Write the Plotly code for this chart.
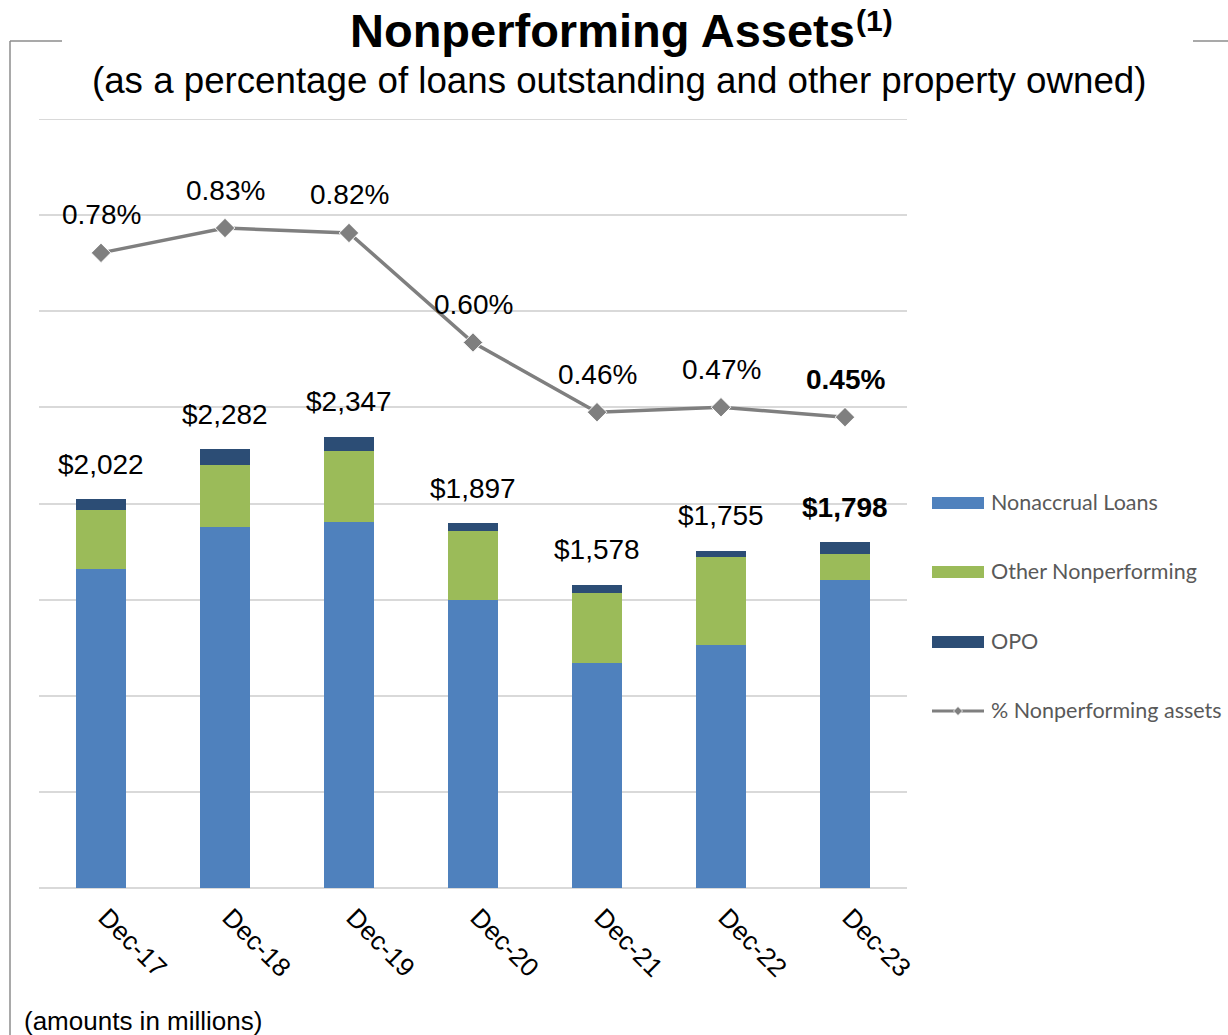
import plotly.graph_objects as go

# ---------------- data ----------------
categories = ["Dec-17", "Dec-18", "Dec-19", "Dec-20", "Dec-21", "Dec-22", "Dec-23"]
nonaccrual_loans = [1661, 1880, 1906, 1500, 1172, 1266, 1602]
other_nonperforming = [304, 318, 365, 355, 364, 458, 135]
opo = [57, 84, 76, 42, 42, 31, 61]
pct_nonperforming = [0.78, 0.83, 0.82, 0.60, 0.46, 0.47, 0.45]

series_names = ["Nonaccrual Loans", "Other Nonperforming", "OPO", "% Nonperforming assets"]

# ---------------- style ----------------
C_BLUE = "#4F81BD"
C_GREEN = "#9BBB59"
C_NAVY = "#2C4D75"
C_LINE = "#7F7F7F"
C_GRID = "#D9D9D9"
FONT = "Arial, Liberation Sans, sans-serif"
LEG_FONT = "Lato, Calibri, sans-serif"

W, H = 1228, 1035
PL, PR, PT, PB = 39, 907, 119, 888   # plot area in page pixels
Y_MAX = 4000
Y_STEP = 500


def px_x(p):
    return (p - PL) / (PR - PL)


def px_y(p):
    return (PB - p) / (PB - PT)


fig = go.Figure()
for name, vals, col in [
    (series_names[0], nonaccrual_loans, C_BLUE),
    (series_names[1], other_nonperforming, C_GREEN),
    (series_names[2], opo, C_NAVY),
]:
    fig.add_trace(go.Bar(x=categories, y=vals, name=name, marker=dict(color=col, line=dict(width=0)),
                         showlegend=False, hoverinfo="y+name"))

fig.add_trace(go.Scatter(
    x=categories, y=pct_nonperforming, name=series_names[3], yaxis="y2",
    mode="lines+markers", line=dict(color=C_LINE, width=3.5),
    marker=dict(symbol="diamond", size=15, color=C_LINE, line=dict(color="white", width=1)),
    showlegend=False,
))

annotations = []
totals = [a + b + c for a, b, c in zip(nonaccrual_loans, other_nonperforming, opo)]
for i, (cat, tot) in enumerate(zip(categories, totals)):
    txt = f"${tot:,}"
    if i == len(categories) - 1:
        txt = f"<b>{txt}</b>"
    annotations.append(dict(x=cat, y=tot, xref="x", yref="y", text=txt, showarrow=False,
                            yanchor="middle", yshift=35, font=dict(family=FONT, size=28, color="black")))
for i, (cat, v) in enumerate(zip(categories, pct_nonperforming)):
    txt = f"{v:.2f}%"
    if i == len(categories) - 1:
        txt = f"<b>{txt}</b>"
    annotations.append(dict(x=cat, y=v, xref="x", yref="y2", text=txt, showarrow=False,
                            yanchor="middle", yshift=38, font=dict(family=FONT, size=28, color="black")))

# titles
annotations.append(dict(x=px_x(602), y=px_y(31), xref="paper", yref="paper", showarrow=False,
                        text="<b>Nonperforming Assets</b>", xanchor="center", yanchor="middle",
                        font=dict(family=FONT, size=47, color="black")))
annotations.append(dict(x=px_x(854), y=px_y(21), xref="paper", yref="paper", showarrow=False,
                        text="<b>(1)</b>", xanchor="left", yanchor="middle",
                        font=dict(family=FONT, size=30, color="black")))
annotations.append(dict(x=px_x(619), y=px_y(81), xref="paper", yref="paper", showarrow=False,
                        text="(as a percentage of loans outstanding and other property owned)",
                        xanchor="center", yanchor="middle",
                        font=dict(family=FONT, size=36.7, color="black")))
annotations.append(dict(x=px_x(22), y=px_y(1021), xref="paper", yref="paper", showarrow=False,
                        text="(amounts in millions)", xanchor="left", yanchor="middle",
                        font=dict(family=FONT, size=26, color="black")))

shapes = []
# top gridline (plotly skips the grid line on the plot edge)
shapes.append(dict(type="line", xref="paper", yref="y", x0=0, x1=1, y0=Y_MAX, y1=Y_MAX,
                   layer="below", line=dict(color=C_GRID, width=2)))
# frame lines
for x0, y0, x1, y1 in [(10, 41, 10, 1040), (10, 41, 62, 41), (1193, 41, 1230, 41)]:
    shapes.append(dict(type="line", xref="paper", yref="paper", x0=px_x(x0), y0=px_y(y0),
                       x1=px_x(x1), y1=px_y(y1), line=dict(color="#8C8C8C", width=1.5)))

# custom legend
leg_rows = [503, 572, 642]
leg_cols = [C_BLUE, C_GREEN, C_NAVY]
for yc, col, name in zip(leg_rows, leg_cols, series_names[:3]):
    shapes.append(dict(type="rect", xref="paper", yref="paper", x0=px_x(932), x1=px_x(984),
                       y0=px_y(yc - 6), y1=px_y(yc + 6), fillcolor=col, line=dict(width=0)))
    annotations.append(dict(x=px_x(989), y=px_y(yc - 1), xref="paper", yref="paper", text=name,
                            showarrow=False, xanchor="left", yanchor="middle",
                            font=dict(family=LEG_FONT, size=21.5, color="#595959")))
yl = 711
shapes.append(dict(type="line", xref="paper", yref="paper", x0=px_x(932), x1=px_x(984),
                   y0=px_y(yl), y1=px_y(yl), line=dict(color=C_LINE, width=3)))
d = 4.5
cx = 958
shapes.append(dict(type="path", xref="paper", yref="paper",
                   path=f"M {px_x(cx - d)},{px_y(yl)} L {px_x(cx)},{px_y(yl - d)} L {px_x(cx + d)},{px_y(yl)} "
                        f"L {px_x(cx)},{px_y(yl + d)} Z",
                   fillcolor=C_LINE, line=dict(color="white", width=0.8)))
annotations.append(dict(x=px_x(989), y=px_y(yl - 1), xref="paper", yref="paper", text=series_names[3],
                        showarrow=False, xanchor="left", yanchor="middle",
                        font=dict(family=LEG_FONT, size=21.5, color="#595959")))

fig.update_layout(
    width=W, height=H,
    margin=dict(l=PL, r=W - PR, t=PT, b=H - PB, pad=0),
    paper_bgcolor="white", plot_bgcolor="white",
    barmode="stack", bargap=0.597,
    showlegend=False,
    xaxis=dict(type="category", tickangle=45, tickfont=dict(family=FONT, size=26, color="black"),
               showline=False, ticks="", showgrid=False, automargin=False,
               ticklabelstandoff=8, ticklabelshift=5),
    yaxis=dict(range=[0, Y_MAX], dtick=Y_STEP, showticklabels=False, showgrid=True, gridcolor=C_GRID,
               gridwidth=2, zeroline=True, zerolinecolor=C_GRID, zerolinewidth=2, showline=False,
               automargin=False),
    yaxis2=dict(range=[-0.496, 1.049], overlaying="y", side="right", visible=False, showgrid=False,
                zeroline=False),
    annotations=annotations,
    shapes=shapes,
)

# remove the default page margin so the figure fills the window exactly
fig.write_html("out.html", config={"displayModeBar": False},
               post_script="document.body.style.margin='0';")
